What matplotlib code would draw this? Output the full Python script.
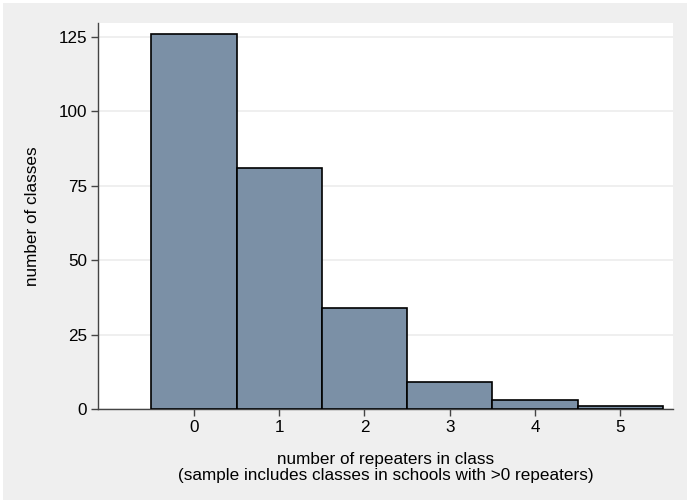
import matplotlib
matplotlib.use("Agg")
import matplotlib.pyplot as plt
from matplotlib.patches import Rectangle

plt.rcParams["font.family"] = ["Liberation Sans", "DejaVu Sans"]

# histogram of repeaters per class
repeaters = [0, 1, 2, 3, 4, 5]
n_classes = [126, 81, 34, 9, 3, 1]
yticks = [0, 25, 50, 75, 100, 125]

W, H = 690, 503
fig = plt.figure(figsize=(W / 100, H / 100), dpi=100, facecolor="white")
# stata-ish gray outer region with thin white rim
fig.patches.append(Rectangle((3 / W, 3 / H), 1 - 6 / W, 1 - 6 / H,
                             transform=fig.transFigure, facecolor="#efefef",
                             edgecolor="none", zorder=-1))

ax = fig.add_axes([98 / W, 1 - 409 / H, (673 - 98) / W, (409 - 23) / H])
ax.set_facecolor("white")

ax.bar(repeaters, n_classes, width=1.0, color="#7b90a6", edgecolor="black",
       linewidth=1.2, zorder=3)

ax.set_xlim(-1.127, 5.62)
ax.set_ylim(0, 129.7)
ax.set_xticks(repeaters)
ax.set_yticks(yticks)
ax.yaxis.grid(True, color="#ececec", linewidth=1.2, zorder=0)

for s in ["top", "right"]:
    ax.spines[s].set_visible(False)
for s in ["left", "bottom"]:
    ax.spines[s].set_color("#444444")
    ax.spines[s].set_linewidth(1.0)

ax.tick_params(axis="both", labelsize=12.3, color="#444444", length=5, width=1,
               pad=3)
ax.tick_params(axis="x", pad=3)

ax.set_ylabel("number of classes", fontsize=12.3, labelpad=13)
ax.set_xlabel("number of repeaters in class\n(sample includes classes in schools with >0 repeaters)",
              fontsize=12.3, labelpad=12, linespacing=1.1)

fig.savefig("out.png", dpi=100, facecolor=fig.get_facecolor())
